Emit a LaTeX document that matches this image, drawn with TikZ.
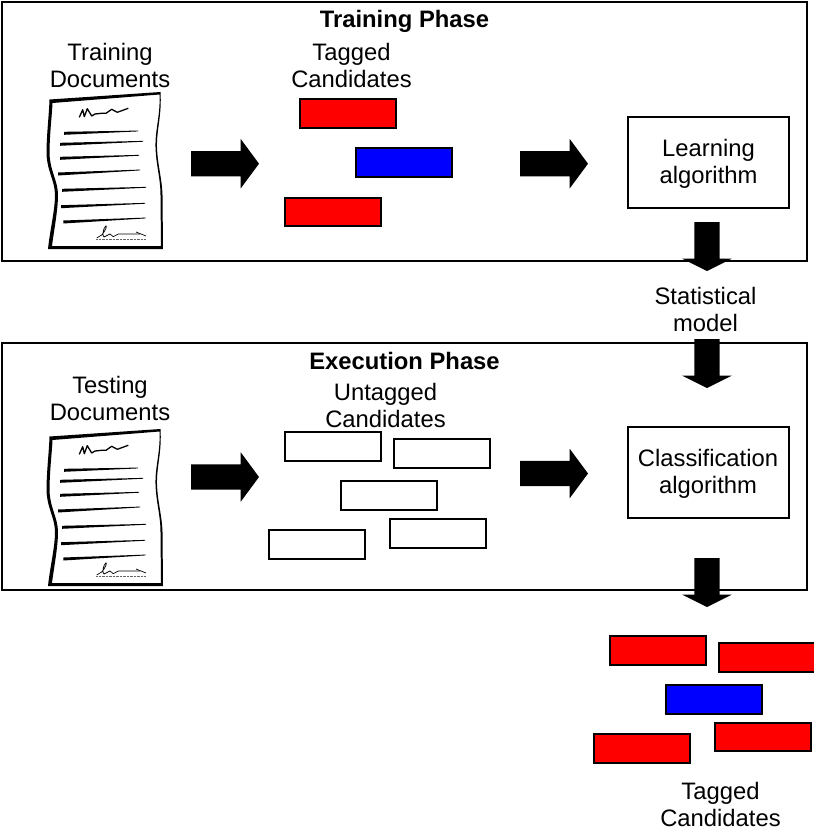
\documentclass[tikz,border=0pt]{standalone}
\usepackage{fontspec}
\setmainfont{Liberation Sans}
\usetikzlibrary{arrows.meta,calc,positioning,shapes.arrows}

\begin{document}
\begin{tikzpicture}[x=1pt,y=-1pt,font=\fontsize{23.8}{27}\selectfont,
  phasebox/.style={draw,line width=1.5pt,inner sep=0pt,outer sep=0pt},
  algobox/.style={draw,line width=1.5pt,minimum width=161pt,minimum height=91pt,
    inner sep=0pt,outer sep=0pt},
  candbox/.style={draw,line width=1.7pt,minimum width=96pt,minimum height=28.5pt,
    inner sep=0pt,outer sep=0pt},
  label/.style={align=center,inner sep=0pt},
  rightarrow/.style={single arrow,fill=black,inner sep=12.5pt,outer sep=0pt,anchor=tail,
    minimum height=68pt,minimum width=49pt,single arrow head extend=12pt,
    single arrow tip angle=107},
  downarrow/.style={single arrow,fill=black,inner sep=12.5pt,outer sep=0pt,anchor=tail,
    shape border rotate=270,minimum height=49pt,minimum width=49pt,
    single arrow head extend=12pt,single arrow tip angle=127},
  pics/paper/.style={code={
    \fill[white] (50,100)--(160,93)--(157,147)--(162,195)--(162,248)--(49,248)--(55,195)--(47,150)--cycle;
    % page edge, heavy on the left and bottom
    \fill[even odd rule] (49.5,99.5)--(160.5,92) .. controls (162,115) and (156.5,130) .. (157,147)
      .. controls (157.5,165) and (162,178) .. (162.5,195)--(163,249)--(48,249)
      .. controls (50,230) and (55,210) .. (55,195) .. controls (55,180) and (46,170) .. (46.5,150)
      .. controls (47,130) and (49,115) .. (49.5,99.5)--cycle
      (52.5,103)--(159.5,94.5) .. controls (160.5,115) and (155,130) .. (155.5,147)
      .. controls (156,165) and (160.5,178) .. (160.5,195)--(161,246)--(52,246)
      .. controls (54,230) and (58,210) .. (58,195) .. controls (58,180) and (49,170) .. (49.5,150)
      .. controls (50,130) and (52,115) .. (52.5,103)--cycle;
    % text lines
    \foreach \xa/\ya/\xb/\yb in {64/133.3/138/131,60/144.3/143/141.3,60/158.3/139/155.3,
        58/174/140/170,62/190.3/146/187.3,61/206.7/145/203.3,63.3/222/145.7/218}{
      \fill (\xa,\ya-1.5)--(\xb,\yb-.4)--(\xb,\yb+.4)--(\xa,\ya+1.5)--cycle;
    }
    % heading and signature scribbles
    \draw[line width=1.3pt,line join=round] (79.3,117.3)--(82.7,109.7)--(84.3,116.7)--(87.3,108.7)
      --(91.7,116)--(95,114)--(101.7,113.3)--(106,113.3)--(111.7,109.3)--(117.3,112.3)--(128.3,108.3);
    \draw[line width=.7pt,line join=round] (96.7,238)--(101.7,235) .. controls (106,230) and (107,226) .. (106,225.7)
      .. controls (103,228) and (102,236) .. (104,237)--(110,234)--(113.3,236.7)--(118.3,234)--(140,234);
    \draw[line width=.7pt] (136,232)--(146,236);
    \draw[line width=.4pt,black!60,densely dotted] (96,239)--(146,239);
  }}]
 \useasboundingbox (0,0) rectangle (814,836);
 \fill[white] (0,0) rectangle (814,836);

 % training phase
 \node[phasebox,minimum width=805pt,minimum height=259pt] (trainframe) at (404.5,131.5) {};
 \node[label,font=\fontsize{23.8}{27}\selectfont\bfseries] (traintitle) at (404.5,21) {Training Phase};
 \node[label] (traindocs) at (110,65) {Training\\Documents};
 \pic (trainpaper) at (0,0) {paper};
 \node[rightarrow] (arrowa) at (191,163.7) {};
 \node[label] (tagged) at (351.5,65) {Tagged\\Candidates};
 \node[candbox,fill=red] (cta) at (348,113.5) {};
 \node[candbox,fill=blue] (ctb) at (404,162.5) {};
 \node[candbox,fill=red] (ctc) at (333,212) {};
 \node[rightarrow] (arrowb) at (520,163.7) {};
 \node[algobox] (learning) at (708.5,162.5) {};
 \node[label] (learningtext) at (708.5,163.5) {Learning\\algorithm};
 \node[downarrow] (arrowc) at (707,222) {};

 \node[label] (model) at (705.5,309.5) {Statistical\\model};

 % execution phase
 \node[phasebox,minimum width=805pt,minimum height=247pt] (execframe) at (404.5,466.5) {};
 \node[label,font=\fontsize{23.8}{27}\selectfont\bfseries] (exectitle) at (404.5,360.5) {Execution Phase};
 \node[downarrow] (arrowd) at (707,339) {};
 \node[label] (testdocs) at (110,398) {Testing\\Documents};
 \pic (testpaper) at (0,337) {paper};
 \node[rightarrow] (arrowe) at (191,477) {};
 \node[label] (untagged) at (385.5,405) {Untagged\\Candidates};
 \node[candbox] (cua) at (333,446.5) {};
 \node[candbox] (cub) at (442,453.5) {};
 \node[candbox] (cuc) at (389,495.5) {};
 \node[candbox] (cud) at (317,544.5) {};
 \node[candbox] (cue) at (438,533.5) {};
 \node[rightarrow] (arrowf) at (520,473.5) {};
 \node[algobox] (classify) at (708.5,472.5) {};
 \node[label] (classifytext) at (708,473.5) {Classification\\algorithm};
 \node[downarrow] (arrowg) at (707,558) {};

 % classified output
 \node[candbox,fill=red] (coa) at (658,650.5) {};
 \node[candbox,fill=red] (cob) at (767,657.5) {};
 \node[candbox,fill=blue] (coc) at (714,699.5) {};
 \node[candbox,fill=red] (cod) at (642,748.5) {};
 \node[candbox,fill=red] (coe) at (763,737) {};
 \node[label] (taggedout) at (720.5,804.5) {Tagged\\Candidates};
\end{tikzpicture}
\end{document}
